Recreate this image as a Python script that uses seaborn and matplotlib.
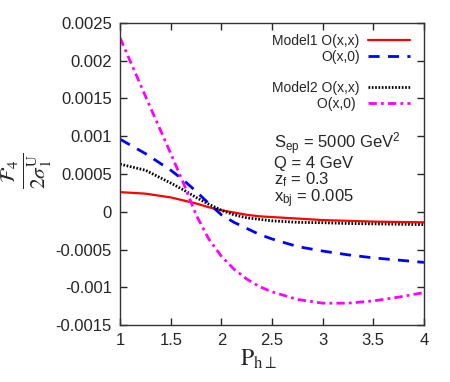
import numpy as np
import pandas as pd
import matplotlib
matplotlib.use("Agg")
import matplotlib.pyplot as plt
import seaborn as sns
from matplotlib.lines import Line2D

# ---- data ----
p_h = [1.0, 1.25, 1.5, 1.625, 1.75, 1.875, 2.0, 2.125, 2.25, 2.375, 2.5,
       2.75, 3.0, 3.25, 3.5, 3.75, 4.0]
model1_xx = [0.00026, 0.00024, 0.00019, 0.00015, 0.00011, 0.00006, 0.00002,
             -0.00001, -0.00004, -0.00006, -0.00007, -0.00009, -0.00011,
             -0.00012, -0.00013, -0.000135, -0.00014]
model1_x0 = [0.00096, 0.00077, 0.00055, 0.00042, 0.00027, 0.00011, -0.00004,
             -0.00014, -0.00022, -0.0003, -0.00036, -0.00046, -0.00052,
             -0.00057, -0.00061, -0.00064, -0.00067]
model2_xx = [0.00063, 0.00055, 0.00038, 0.00029, 0.00019, 0.0001, 0.00002,
             -0.00004, -0.00008, -0.0001, -0.00012, -0.00014, -0.000145,
             -0.000155, -0.00016, -0.000165, -0.00017]
model2_x0 = [0.0023, 0.00153, 0.00077, 0.00038, -0.00004, -0.00036, -0.00059,
             -0.00076, -0.00089, -0.00099, -0.00106, -0.00116, -0.00121,
             -0.00121, -0.00118, -0.00113, -0.00107]

labels = ["Model1 O(x,x)", "O(x,0)", "Model2 O(x,x)", "O(x,0) "]
x_ticks = [1, 1.5, 2, 2.5, 3, 3.5, 4]
x_ticklabels = ["1", "1.5", "2", "2.5", "3", "3.5", "4"]
y_ticks = [-0.0015, -0.001, -0.0005, 0, 0.0005, 0.001, 0.0015, 0.002, 0.0025]
y_ticklabels = ["-0.0015", "-0.001", "-0.0005", "0", "0.0005", "0.001",
                "0.0015", "0.002", "0.0025"]
info_lines = [r"S$_{\mathrm{ep}}$ = 5000 GeV$^2$", "Q = 4 GeV",
              r"z$_{\mathrm{f}}$ = 0.3", r"x$_{\mathrm{bj}}$ = 0.005"]

series = [model1_xx, model1_x0, model2_xx, model2_x0]
df = pd.concat([pd.DataFrame({"x": p_h, "y": s, "series": lab})
                for s, lab in zip(series, labels)], ignore_index=True)

sns.set_style("ticks")
plt.rcParams["font.family"] = ["Liberation Sans", "DejaVu Sans"]
plt.rcParams["mathtext.fontset"] = "custom"
plt.rcParams["mathtext.rm"] = "Liberation Sans"
plt.rcParams["mathtext.it"] = "Liberation Sans:italic"

fig = plt.figure(figsize=(4.5, 3.82), dpi=100)
ax = fig.add_axes([0.267, 0.149, 0.675, 0.791])

styles = [
    dict(color="#ff0000", lw=1.6, ls="-"),
    dict(color="#0000ff", lw=2.0, ls=(0, (4, 3))),
    dict(color="#000000", lw=2.0, ls=(0, (0.6, 0.6))),
    dict(color="#ff00ff", lw=2.0, ls=(0, (3, 1.5, 1, 1.5))),
]
handles = []
for lab, st in zip(labels, styles):
    sub = df[df["series"] == lab]
    sns.lineplot(data=sub, x="x", y="y", ax=ax, color=st["color"],
                 linewidth=st["lw"], linestyle=st["ls"], legend=False)
    handles.append(Line2D([], [], color=st["color"], lw=st["lw"], ls=st["ls"]))

blank = Line2D([], [], color="none")
leg = ax.legend([handles[0], handles[1], blank, handles[2], handles[3]],
                [labels[0], labels[1], " ", labels[2], labels[3]],
                loc="upper right", frameon=False, markerfirst=False,
                fontsize=10, labelspacing=0.12, handlelength=3.0,
                handletextpad=0.6, borderaxespad=0.3,
                bbox_to_anchor=(0.985, 0.995))

ax.set_xlim(1, 4)
ax.set_ylim(-0.0015, 0.0025)
ax.set_xticks(x_ticks)
ax.set_xticklabels(x_ticklabels)
ax.set_yticks(y_ticks)
ax.set_yticklabels(y_ticklabels)
ax.tick_params(direction="in", length=5, width=1, top=True, right=True,
               labelsize=12, pad=6)
for sp in ax.spines.values():
    sp.set_linewidth(1.0)
    sp.set_color("#333333")

ax.text(0.505, 0.405, "\n".join(info_lines), transform=ax.transAxes,
        fontsize=12, ha="left", va="baseline", linespacing=0.93)

ax.set_xlabel("")
ax.set_ylabel("")
fig.text(0.575, 0.03, r"$\mathrm{P}_{\mathrm{h}\perp}$", fontsize=17,
         ha="center", va="bottom", math_fontfamily="stix")
fig.text(0.06, 0.552, r"$\frac{\mathcal{F}_4}{2\sigma_1^{\mathrm{U}}}$",
         fontsize=22, rotation=90, ha="center", va="center",
         math_fontfamily="stix")

fig.savefig("out.png", dpi=100)
